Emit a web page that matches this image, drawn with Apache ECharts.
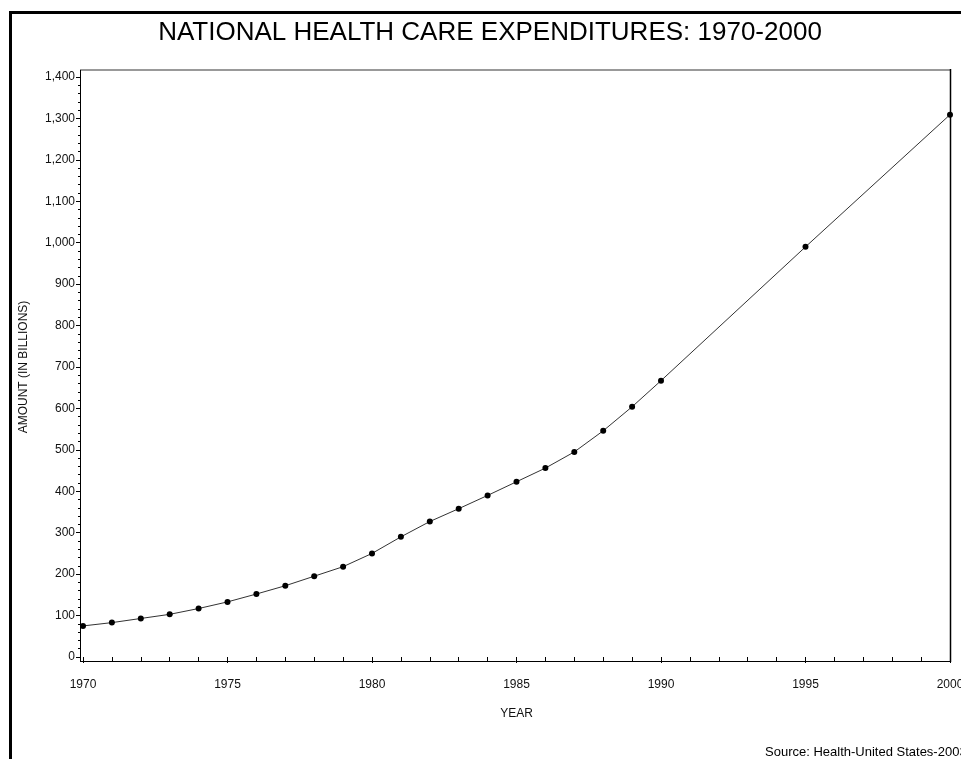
<!DOCTYPE html>
<html>
<head>
<meta charset="utf-8">
<script src="https://cdn.jsdelivr.net/npm/echarts@6/dist/echarts.min.js"></script>
<style>
html,body{margin:0;padding:0;background:#fff;overflow:hidden;}
#chart{width:961px;height:759px;}
</style>
</head>
<body>
<div id="chart"></div>
<script>
const years = [1970,1971,1972,1973,1974,1975,1976,1977,1978,1979,1980,1981,1982,1983,1984,1985,1986,1987,1988,1989,1990,1995,2000];
const amounts = [75,83,93,103,117,133,152,172,195,218,250,290,327,358,390,423,456,495,546,604,667,990,1309];
const yTicks = [0,100,200,300,400,500,600,700,800,900,1000,1100,1200,1300,1400];
const xTicks = [1970,1975,1980,1985,1990,1995,2000];

const chart = echarts.init(document.getElementById('chart'), null, {renderer:'canvas'});
const font = 'Liberation Sans, Arial, sans-serif';
chart.setOption({
  animation:false,
  backgroundColor:'#fff',
  title:{
    text:'NATIONAL HEALTH CARE EXPENDITURES: 1970-2000',
    left:485, top:15, textAlign:'center',
    textStyle:{fontFamily:font,fontSize:26,fontWeight:'normal',color:'#000'}
  },
  graphic:[
    {type:'line',shape:{x1:9,y1:12.5,x2:961,y2:12.5},style:{stroke:'#000',lineWidth:3}},
    {type:'line',shape:{x1:10.5,y1:11,x2:10.5,y2:759},style:{stroke:'#000',lineWidth:3}},
    {type:'line',shape:{x1:80,y1:70,x2:951,y2:70},style:{stroke:'#777',lineWidth:1.5}},
    {type:'line',shape:{x1:950.5,y1:69,x2:950.5,y2:662},style:{stroke:'#000',lineWidth:1.5}},
    {type:'line',shape:{x1:80.5,y1:70,x2:80.5,y2:662},style:{stroke:'#000',lineWidth:1}},
    {type:'line',shape:{x1:80,y1:661.5,x2:951,y2:661.5},style:{stroke:'#000',lineWidth:1}},
    {type:'text',left:765,top:746,style:{text:'Source: Health-United States-2003',font:'13px '+font,fill:'#000'}}
  ],
  grid:{left:83,right:11,top:77,bottom:102,containLabel:false,outerBoundsMode:'none'},
  xAxis:{
    type:'value',min:xTicks[0],max:xTicks[xTicks.length-1],interval:5,
    offset:5,
    name:'YEAR',nameLocation:'middle',nameGap:46,
    nameTextStyle:{fontFamily:font,fontSize:12,color:'#111'},
    axisLine:{show:false},
    axisTick:{show:true,length:6,lineStyle:{color:'#000',width:1}},
    minorTick:{show:true,splitNumber:5,length:4,lineStyle:{color:'#000',width:1}},
    splitLine:{show:false},
    axisLabel:{fontFamily:font,fontSize:12,color:'#111',margin:17,formatter:v=>String(v)}
  },
  yAxis:{
    type:'value',min:yTicks[0],max:yTicks[yTicks.length-1],interval:100,
    offset:3,
    name:'AMOUNT (IN BILLIONS)',nameLocation:'middle',nameGap:50,nameRotate:90,
    nameTextStyle:{fontFamily:font,fontSize:12,color:'#111'},
    axisLine:{show:false},
    axisTick:{show:true,length:4,lineStyle:{color:'#000',width:1}},
    minorTick:{show:true,splitNumber:5,length:2,lineStyle:{color:'#000',width:1}},
    splitLine:{show:false},
    axisLabel:{fontFamily:font,fontSize:12,color:'#111',margin:5,
      formatter:v=>v.toLocaleString('en-US')}
  },
  series:[{
    type:'line',
    data:years.map((y,i)=>[y,amounts[i]]),
    symbol:'circle',symbolSize:6,
    itemStyle:{color:'#000'},
    lineStyle:{color:'#333',width:1},
    clip:false
  }]
});
</script>
</body>
</html>
